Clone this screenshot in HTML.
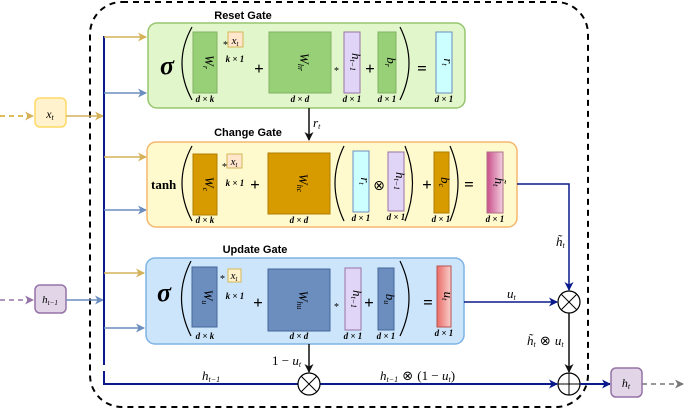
<!DOCTYPE html>
<html><head><meta charset="utf-8"><style>
body{margin:0;background:#fff}
svg{display:block}
.m{font-family:"Liberation Serif",serif;font-style:italic}
.s{font-family:"Liberation Serif",serif;font-style:italic;font-size:9px;font-weight:bold}
.t{font-family:"Liberation Sans",sans-serif;font-weight:bold;font-size:11px}
.p{font-family:"Liberation Serif",serif;font-size:17px;font-weight:bold}
</style></head><body>
<svg width="685" height="409" viewBox="0 0 685 409" xmlns="http://www.w3.org/2000/svg">
<defs>
<marker id="ay" markerUnits="userSpaceOnUse" markerWidth="9" markerHeight="9" refX="8" refY="4.5" orient="auto"><path d="M0,0 L9,4.5 L0,9 L2.5,4.5z" fill="#d4b25a"/></marker>
<marker id="ab" markerUnits="userSpaceOnUse" markerWidth="9" markerHeight="9" refX="8" refY="4.5" orient="auto"><path d="M0,0 L9,4.5 L0,9 L2.5,4.5z" fill="#6c8ebf"/></marker>
<marker id="an" markerUnits="userSpaceOnUse" markerWidth="9" markerHeight="9" refX="8" refY="4.5" orient="auto"><path d="M0,0 L9,4.5 L0,9 L2.5,4.5z" fill="#0a1a8a"/></marker>
<marker id="ak" markerUnits="userSpaceOnUse" markerWidth="9" markerHeight="9" refX="8" refY="4.5" orient="auto"><path d="M0,0 L9,4.5 L0,9 L2.5,4.5z" fill="#111"/></marker>
<marker id="ag" markerUnits="userSpaceOnUse" markerWidth="9" markerHeight="9" refX="8" refY="4.5" orient="auto"><path d="M0,0 L9,4.5 L0,9 L2.5,4.5z" fill="#777"/></marker>
<marker id="ap" markerUnits="userSpaceOnUse" markerWidth="9" markerHeight="9" refX="8" refY="4.5" orient="auto"><path d="M0,0 L9,4.5 L0,9 L2.5,4.5z" fill="#9673a6"/></marker>
<linearGradient id="gp" x1="0" x2="1"><stop offset="0" stop-color="#c94f8a"/><stop offset="1" stop-color="#f2d0e0"/></linearGradient>
<linearGradient id="gr" x1="0" x2="1"><stop offset="0" stop-color="#ea6b66"/><stop offset="1" stop-color="#f8cfcc"/></linearGradient>
</defs>
<rect x="90" y="2" width="498" height="405" rx="32" fill="none" stroke="#000" stroke-width="2" stroke-dasharray="6,5"/>
<line x1="0" y1="116" x2="33" y2="116" stroke="#d6a520" stroke-width="1.5" stroke-dasharray="5,4" marker-end="url(#ay)"/>
<rect x="35" y="98" width="31" height="29" rx="5" fill="#fff2cc" stroke="#ffd966" stroke-width="1.5"/>
<text x="50" y="118" class="m" font-size="12" text-anchor="middle">x<tspan font-size="8" dy="2">t</tspan></text>
<line x1="66" y1="116" x2="103" y2="116" stroke="#d4b25a" stroke-width="1.5" marker-end="url(#ay)"/>
<line x1="0" y1="300" x2="33" y2="300" stroke="#9673a6" stroke-width="1.5" stroke-dasharray="5,4" marker-end="url(#ap)"/>
<rect x="35" y="285" width="31" height="28" rx="5" fill="#e1d5e7" stroke="#9673a6" stroke-width="1.5"/>
<text x="50" y="303" class="m" font-size="11" text-anchor="middle">h<tspan font-size="7" dy="2">t−1</tspan></text>
<line x1="66" y1="300" x2="103" y2="300" stroke="#6c8ebf" stroke-width="1.5" marker-end="url(#ab)"/>
<line x1="104" y1="36" x2="104" y2="365" stroke="#0a1a8a" stroke-width="2"/>
<polyline points="104,371 104,384 300,384" fill="none" stroke="#0a1a8a" stroke-width="2"/>
<line x1="104" y1="37" x2="146" y2="37" stroke="#d4b25a" stroke-width="1.5" marker-end="url(#ay)"/>
<line x1="104" y1="93" x2="146" y2="93" stroke="#6c8ebf" stroke-width="1.5" marker-end="url(#ab)"/>
<line x1="104" y1="157" x2="146" y2="157" stroke="#d4b25a" stroke-width="1.5" marker-end="url(#ay)"/>
<line x1="104" y1="210" x2="146" y2="210" stroke="#6c8ebf" stroke-width="1.5" marker-end="url(#ab)"/>
<line x1="104" y1="273" x2="144" y2="273" stroke="#d4b25a" stroke-width="1.5" marker-end="url(#ay)"/>
<line x1="104" y1="328" x2="144" y2="328" stroke="#6c8ebf" stroke-width="1.5" marker-end="url(#ab)"/>

<text x="243" y="19" class="t" text-anchor="middle">Reset Gate</text>
<rect x="148" y="23" width="317" height="85" rx="9" fill="#e2f6cb" stroke="#97c56f" stroke-width="1.5"/>
<text x="167" y="74" class="m" font-size="26" font-weight="bold" text-anchor="middle">σ</text>
<path d="M192,27 Q172,63 192,100" fill="none" stroke="#000" stroke-width="1.2"/>
<rect x="193" y="32" width="24" height="61" fill="#97d077" stroke="#82b366"/>
<text transform="translate(205,62) rotate(90)" class="m" font-size="13" text-anchor="middle">W<tspan font-size="8" dy="2">r</tspan></text>
<text x="223" y="48" font-size="10">*</text>
<rect x="228" y="32" width="15" height="15" fill="#ffe6cc" stroke="#d6b656"/>
<text x="235" y="44" class="m" font-size="11" text-anchor="middle">x<tspan font-size="7" dy="2">t</tspan></text>
<text x="235" y="62" class="s" text-anchor="middle">k × 1</text>
<text x="205" y="102" class="s" text-anchor="middle">d × k</text>
<text x="259" y="74" class="p" text-anchor="middle">+</text>
<rect x="269" y="32" width="62" height="61" fill="#97d077" stroke="#82b366"/>
<text transform="translate(300,62) rotate(90)" class="m" font-size="13" text-anchor="middle">W<tspan font-size="8" dy="2">hr</tspan></text>
<text x="300" y="102" class="s" text-anchor="middle">d × d</text>
<text x="334" y="74" font-size="10">*</text>
<rect x="344" y="32" width="16" height="61" fill="#e1d5f7" stroke="#9673a6"/>
<text transform="translate(352,62) rotate(90)" class="m" font-size="13" text-anchor="middle">h<tspan font-size="8" dy="2">t−1</tspan></text>
<text x="352" y="102" class="s" text-anchor="middle">d × 1</text>
<text x="370" y="74" class="p" text-anchor="middle">+</text>
<rect x="378" y="32" width="18" height="61" fill="#97d077" stroke="#82b366"/>
<text transform="translate(387,62) rotate(90)" class="m" font-size="13" text-anchor="middle">b<tspan font-size="8" dy="2">r</tspan></text>
<text x="387" y="102" class="s" text-anchor="middle">d × 1</text>
<path d="M400,27 Q418,63 400,100" fill="none" stroke="#000" stroke-width="1.2"/>
<text x="422" y="74" class="p" text-anchor="middle">=</text>
<rect x="436" y="32" width="16" height="61" fill="#ccffff" stroke="#6c8ebf"/>
<text transform="translate(444,62) rotate(90)" class="m" font-size="13" text-anchor="middle">r<tspan font-size="8" dy="2">t</tspan></text>
<text x="444" y="102" class="s" text-anchor="middle">d × 1</text>
<line x1="309" y1="108" x2="309" y2="140" stroke="#111" stroke-width="1.5" marker-end="url(#ak)"/>
<text x="313" y="127" class="m" font-size="13">r<tspan font-size="8" dy="2">t</tspan></text>

<text x="248" y="136" class="t" text-anchor="middle">Change Gate</text>
<rect x="147" y="142" width="370" height="85" rx="9" fill="#fffacd" stroke="#f5b76e" stroke-width="1.5"/>
<text x="151" y="189" font-family="Liberation Serif,serif" font-size="13" font-weight="bold">tanh</text>
<path d="M192,146 Q172,183 192,221" fill="none" stroke="#000" stroke-width="1.2"/>
<rect x="193" y="154" width="24" height="61" fill="#d79b00" stroke="#b07c00"/>
<text transform="translate(205,184) rotate(90)" class="m" font-size="13" text-anchor="middle">W<tspan font-size="8" dy="2">c</tspan></text>
<text x="222" y="170" font-size="10">*</text>
<rect x="227" y="154" width="15" height="14" fill="#ffe6cc" stroke="#d6b656"/>
<text x="234" y="165" class="m" font-size="11" text-anchor="middle">x<tspan font-size="7" dy="2">t</tspan></text>
<text x="235" y="186" class="s" text-anchor="middle">k × 1</text>
<text x="205" y="223" class="s" text-anchor="middle">d × k</text>
<text x="255" y="190" class="p" text-anchor="middle">+</text>
<rect x="268" y="153" width="62" height="61" fill="#d79b00" stroke="#b07c00"/>
<text transform="translate(299,183) rotate(90)" class="m" font-size="13" text-anchor="middle">W<tspan font-size="8" dy="2">hc</tspan></text>
<text x="299" y="223" class="s" text-anchor="middle">d × d</text>
<path d="M344,146 Q326,183 344,221" fill="none" stroke="#000" stroke-width="1.2"/>
<rect x="353" y="151" width="16" height="61" fill="#ccffff" stroke="#6c8ebf"/>
<text transform="translate(361,181) rotate(90)" class="m" font-size="13" text-anchor="middle">r<tspan font-size="8" dy="2">t</tspan></text>
<text x="361" y="221" class="s" text-anchor="middle">d × 1</text>
<text x="379" y="190" font-size="14" text-anchor="middle" font-family="DejaVu Sans,sans-serif">⊗</text>
<rect x="388" y="152" width="16" height="59" fill="#e1d5f7" stroke="#9673a6"/>
<text transform="translate(396,181) rotate(90)" class="m" font-size="13" text-anchor="middle">h<tspan font-size="8" dy="2">t−1</tspan></text>
<text x="396" y="220" class="s" text-anchor="middle">d × 1</text>
<path d="M405,146 Q420,183 405,221" fill="none" stroke="#000" stroke-width="1.2"/>
<text x="427" y="190" class="p" text-anchor="middle">+</text>
<rect x="434" y="152" width="15" height="61" fill="#d79b00" stroke="#b07c00"/>
<text transform="translate(441,182) rotate(90)" class="m" font-size="13" text-anchor="middle">b<tspan font-size="8" dy="2">c</tspan></text>
<text x="441" y="222" class="s" text-anchor="middle">d × 1</text>
<path d="M450,146 Q466,183 450,221" fill="none" stroke="#000" stroke-width="1.2"/>
<text x="469" y="190" class="p" text-anchor="middle">=</text>
<rect x="487" y="152" width="16" height="61" fill="url(#gp)" stroke="#b0708a"/>
<text transform="translate(495,182) rotate(90)" class="m" font-size="13" text-anchor="middle">h̃<tspan font-size="8" dy="2">t</tspan></text>
<text x="495" y="222" class="s" text-anchor="middle">d × 1</text>
<polyline points="517,184 569,184 569,290" fill="none" stroke="#0a1a8a" stroke-width="1.5" marker-end="url(#an)"/>
<text x="556" y="246" class="m" font-size="13">h̃<tspan font-size="8" dy="2">t</tspan></text>

<text x="255" y="253" class="t" text-anchor="middle">Update Gate</text>
<rect x="146" y="258" width="318" height="86" rx="9" fill="#cce5fa" stroke="#7eb3e3" stroke-width="1.5"/>
<text x="164" y="301" class="m" font-size="26" font-weight="bold" text-anchor="middle">σ</text>
<path d="M191,261 Q172,298 191,336" fill="none" stroke="#000" stroke-width="1.2"/>
<rect x="192" y="267" width="25" height="60" fill="#6c8ebf" stroke="#44669a"/>
<text transform="translate(204,297) rotate(90)" class="m" font-size="13" text-anchor="middle">W<tspan font-size="8" dy="2">u</tspan></text>
<text x="220" y="282" font-size="10">*</text>
<rect x="228" y="269" width="13" height="13" fill="#fff2cc" stroke="#d6b656"/>
<text x="234" y="279" class="m" font-size="11" text-anchor="middle">x<tspan font-size="7" dy="2">t</tspan></text>
<text x="235" y="299" class="s" text-anchor="middle">k × 1</text>
<text x="205" y="339" class="s" text-anchor="middle">d × k</text>
<text x="258" y="308" class="p" text-anchor="middle">+</text>
<rect x="268" y="269" width="62" height="62" fill="#6c8ebf" stroke="#44669a"/>
<text transform="translate(299,300) rotate(90)" class="m" font-size="13" text-anchor="middle">W<tspan font-size="8" dy="2">hu</tspan></text>
<text x="299" y="339" class="s" text-anchor="middle">d × d</text>
<text x="334" y="310" font-size="10">*</text>
<rect x="345" y="268" width="16" height="62" fill="#e1d5f7" stroke="#9673a6"/>
<text transform="translate(353,299) rotate(90)" class="m" font-size="13" text-anchor="middle">h<tspan font-size="8" dy="2">t−1</tspan></text>
<text x="353" y="339" class="s" text-anchor="middle">d × 1</text>
<text x="369" y="308" class="p" text-anchor="middle">+</text>
<rect x="378" y="268" width="16" height="62" fill="#6c8ebf" stroke="#44669a"/>
<text transform="translate(386,299) rotate(90)" class="m" font-size="13" text-anchor="middle">b<tspan font-size="8" dy="2">u</tspan></text>
<text x="386" y="339" class="s" text-anchor="middle">d × 1</text>
<path d="M400,261 Q418,298 400,336" fill="none" stroke="#000" stroke-width="1.2"/>
<text x="428" y="308" class="p" text-anchor="middle">=</text>
<rect x="437" y="266" width="14" height="61" fill="url(#gr)" stroke="#b85450"/>
<text transform="translate(444,296) rotate(90)" class="m" font-size="13" text-anchor="middle">u<tspan font-size="8" dy="2">t</tspan></text>
<text x="444" y="336" class="s" text-anchor="middle">d × 1</text>
<line x1="464" y1="302" x2="557" y2="302" stroke="#0a1a8a" stroke-width="1.5" marker-end="url(#an)"/>
<text x="507" y="298" class="m" font-size="13">u<tspan font-size="8" dy="2">t</tspan></text>

<circle cx="569" cy="302" r="11" fill="#fff" stroke="#000" stroke-width="1.2"/>
<line x1="561" y1="294" x2="577" y2="310" stroke="#000"/><line x1="577" y1="294" x2="561" y2="310" stroke="#000"/>
<line x1="569" y1="313" x2="569" y2="372" stroke="#111" stroke-width="1.5" marker-end="url(#ak)"/>
<text x="527" y="345" class="m" font-size="13">h̃<tspan font-size="8" dy="2">t</tspan><tspan dy="-2" font-style="normal" font-family="DejaVu Sans"> ⊗ </tspan>u<tspan font-size="8" dy="2">t</tspan></text>
<circle cx="569" cy="384" r="11" fill="#fff" stroke="#000" stroke-width="1.2"/>
<line x1="558" y1="384" x2="580" y2="384" stroke="#000"/><line x1="569" y1="373" x2="569" y2="395" stroke="#000"/>
<line x1="580" y1="384" x2="610" y2="384" stroke="#0a1a8a" stroke-width="2" marker-end="url(#an)"/>
<rect x="611" y="368" width="31" height="29" rx="5" fill="#e1d5e7" stroke="#9673a6" stroke-width="1.5"/>
<text x="626" y="387" class="m" font-size="12" text-anchor="middle">h<tspan font-size="8" dy="2">t</tspan></text>
<line x1="642" y1="384" x2="683" y2="384" stroke="#777" stroke-width="1.5" stroke-dasharray="5,4" marker-end="url(#ag)"/>

<line x1="309" y1="344" x2="309" y2="372" stroke="#111" stroke-width="1.5" marker-end="url(#ak)"/>
<text x="272" y="365" class="m" font-size="13"><tspan font-style="normal">1 − </tspan>u<tspan font-size="8" dy="2">t</tspan></text>
<line x1="320" y1="384" x2="557" y2="384" stroke="#0a1a8a" stroke-width="2" marker-end="url(#an)"/>
<circle cx="309" cy="384" r="11" fill="#fff" stroke="#000" stroke-width="1.2"/>
<line x1="301" y1="376" x2="317" y2="392" stroke="#000"/><line x1="317" y1="376" x2="301" y2="392" stroke="#000"/>
<text x="202" y="380" class="m" font-size="13">h<tspan font-size="8" dy="2">t−1</tspan></text>
<text x="380" y="380" class="m" font-size="13">h<tspan font-size="8" dy="2">t−1</tspan><tspan dy="-2" font-style="normal" font-family="DejaVu Sans"> ⊗ </tspan><tspan font-style="normal">(1 − </tspan>u<tspan font-size="8" dy="2">t</tspan><tspan dy="-2" font-style="normal">)</tspan></text>
</svg>
</body></html>
